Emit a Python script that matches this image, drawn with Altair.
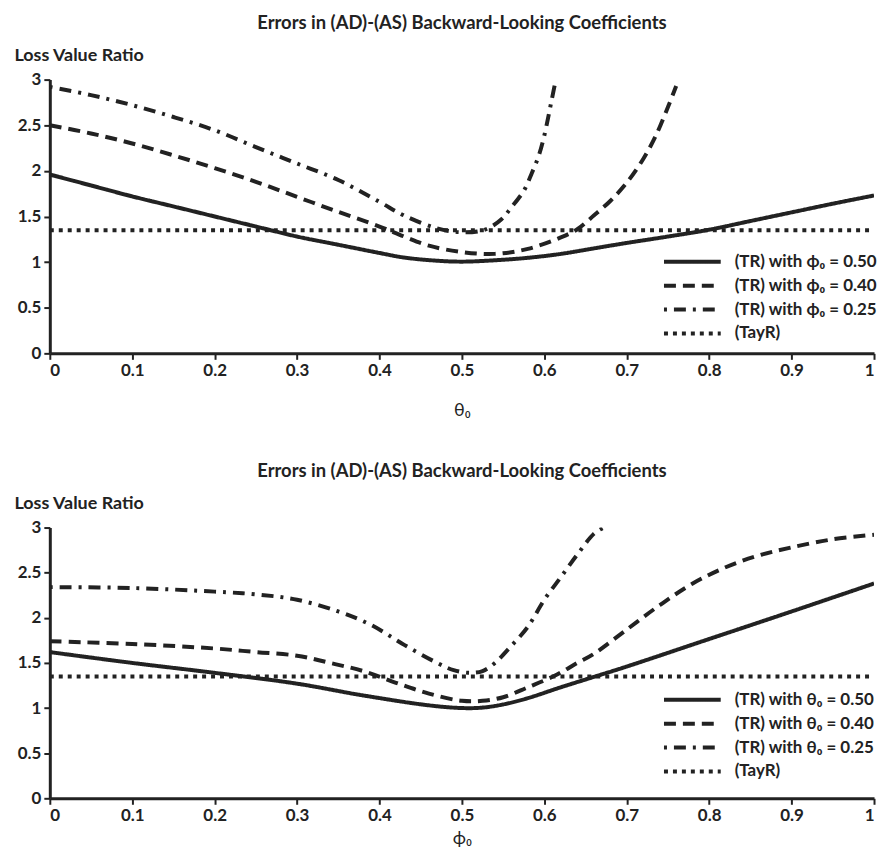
import altair as alt
import pandas as pd

# ---------------- Top panel (x = theta_0) ----------------
top_labels = ["(TR) with ϕ₀ = 0.50", "(TR) with ϕ₀ = 0.40", "(TR) with ϕ₀ = 0.25", "(TayR)"]

top_s_x = [0, 0.05, 0.1, 0.15, 0.2, 0.25, 0.3, 0.35, 0.4, 0.43, 0.47, 0.5, 0.54, 0.58, 0.62, 0.66, 0.7, 0.75, 0.8, 0.85, 0.9, 0.95, 1.0]
top_s_y = [1.96, 1.84, 1.72, 1.61, 1.50, 1.39, 1.28, 1.19, 1.10, 1.05, 1.015, 1.005, 1.02, 1.047, 1.09, 1.15, 1.21, 1.28, 1.355, 1.45, 1.545, 1.64, 1.73]

top_d_x = [0, 0.05, 0.1, 0.15, 0.2, 0.25, 0.3, 0.35, 0.4, 0.43, 0.46, 0.5, 0.54, 0.58, 0.62, 0.64, 0.66, 0.68, 0.70, 0.72, 0.735, 0.75, 0.76]
top_d_y = [2.50, 2.41, 2.30, 2.17, 2.03, 1.88, 1.715, 1.55, 1.39, 1.28, 1.18, 1.11, 1.09, 1.145, 1.27, 1.36, 1.51, 1.67, 1.87, 2.13, 2.38, 2.70, 2.93]

top_dd_x = [0, 0.05, 0.1, 0.15, 0.2, 0.25, 0.3, 0.35, 0.4, 0.43, 0.47, 0.5, 0.528, 0.548, 0.56, 0.575, 0.585, 0.593, 0.599, 0.605, 0.609, 0.614]
top_dd_y = [2.92, 2.83, 2.72, 2.59, 2.445, 2.26, 2.08, 1.90, 1.66, 1.51, 1.37, 1.327, 1.356, 1.47, 1.60, 1.78, 1.98, 2.16, 2.35, 2.60, 2.78, 3.0]

tayr_x = [0, 1]
tayr_y = [1.35, 1.35]

# ---------------- Bottom panel (x = phi_0) ----------------
bot_labels = ["(TR) with θ₀ = 0.50", "(TR) with θ₀ = 0.40", "(TR) with θ₀ = 0.25", "(TayR)"]

bot_s_x = [0, 0.1, 0.2, 0.3, 0.38, 0.46, 0.5, 0.525, 0.55, 0.58, 0.62, 0.66, 0.7, 0.8, 0.9, 1.0]
bot_s_y = [1.62, 1.50, 1.39, 1.27, 1.14, 1.03, 1.00, 1.005, 1.04, 1.11, 1.23, 1.345, 1.46, 1.765, 2.07, 2.38]

bot_d_x = [0, 0.1, 0.2, 0.25, 0.3, 0.34, 0.38, 0.42, 0.46, 0.5, 0.525, 0.55, 0.58, 0.613, 0.64, 0.66, 0.7, 0.74, 0.78, 0.82, 0.86, 0.9, 0.95, 1.0]
bot_d_y = [1.74, 1.71, 1.66, 1.62, 1.58, 1.50, 1.41, 1.28, 1.16, 1.08, 1.08, 1.12, 1.23, 1.36, 1.50, 1.60, 1.87, 2.14, 2.38, 2.56, 2.69, 2.78, 2.87, 2.92]

bot_dd_x = [0, 0.1, 0.2, 0.25, 0.3, 0.35, 0.39, 0.43, 0.47, 0.49, 0.51, 0.525, 0.54, 0.56, 0.58, 0.60, 0.62, 0.64, 0.66, 0.672]
bot_dd_y = [2.34, 2.33, 2.29, 2.26, 2.20, 2.07, 1.92, 1.70, 1.50, 1.42, 1.39, 1.41, 1.50, 1.69, 1.90, 2.20, 2.45, 2.70, 2.93, 3.0]

x_ticks = [0, 0.1, 0.2, 0.3, 0.4, 0.5, 0.6, 0.7, 0.8, 0.9, 1.0]
y_ticks = [0, 0.5, 1, 1.5, 2, 2.5, 3]

TITLE = "Errors in (AD)-(AS) Backward-Looking Coefficients"
FONT = "Lato"
INK = "#222222"

dashes = [[1, 0], [12, 7], [3, 7, 12, 7], [4, 5]]
widths = [4, 4, 2, 2]


def make_df(labels, series):
    rows = []
    for lab, (xs, ys) in zip(labels, series):
        for i, (xv, yv) in enumerate(zip(xs, ys)):
            rows.append({"series": lab, "x": xv, "y": yv, "order": i})
    return pd.DataFrame(rows)


def panel(df, labels, xtitle, w, h, legend_y, title_pad):
    leg = alt.Legend(
        orient="none", legendX=615, legendY=legend_y, title=None,
        symbolType="M-1,0H4.7", symbolSize=400, symbolStrokeColor=INK,
        symbolFillColor="transparent",
        labelFont=FONT, labelFontSize=17, labelFontWeight="bold", labelColor=INK,
        labelOffset=49, rowPadding=4, symbolOffset=0,
    )
    return alt.Chart(df).mark_line(color=INK, interpolate="catmull-rom", clip=True).encode(
        x=alt.X("x:Q", scale=alt.Scale(domain=[0, 1], nice=False),
                axis=alt.Axis(values=x_ticks, format="~g", title=xtitle,
                              titleFontWeight="normal", titleFontSize=18,
                              titlePadding=title_pad)),
        y=alt.Y("y:Q", scale=alt.Scale(domain=[0, 3], nice=False),
                axis=alt.Axis(values=y_ticks, format="~g", title="Loss Value Ratio",
                              titleAngle=0, titleAlign="left", titleBaseline="alphabetic",
                              titleX=-36, titleY=-19)),
        strokeDash=alt.StrokeDash("series:N", scale=alt.Scale(domain=labels, range=dashes), legend=leg),
        strokeWidth=alt.StrokeWidth("series:N", scale=alt.Scale(domain=labels, range=widths), legend=leg),
        order="order:Q",
    ).properties(
        width=w, height=h,
        title=alt.TitleParams(TITLE, font=FONT, fontSize=18.5, fontWeight="bold",
                              color=INK, anchor="middle", offset=14),
    )


top_df = make_df(top_labels, [(top_s_x, top_s_y), (top_d_x, top_d_y), (top_dd_x, top_dd_y), (tayr_x, tayr_y)])
bot_df = make_df(bot_labels, [(bot_s_x, bot_s_y), (bot_d_x, bot_d_y), (bot_dd_x, bot_dd_y), (tayr_x, tayr_y)])

top = panel(top_df, top_labels, "θ₀", 828, 275, 171, 23)
bot = panel(bot_df, bot_labels, "ϕ₀", 828, 272, 161, 6)

chart = alt.vconcat(top, bot, spacing=43).resolve_scale(
    strokeDash="independent", strokeWidth="independent"
).resolve_legend(
    strokeDash="independent", strokeWidth="independent"
).properties(
    padding={"top": 4, "left": 6, "right": 0, "bottom": 0},
    background="white",
).configure_view(stroke=None).configure_axis(
    grid=False, domainColor=INK, domainWidth=3, tickColor=INK, tickWidth=2, tickSize=6,
    labelFont=FONT, labelFontSize=17, labelFontWeight="bold", labelColor=INK, labelPadding=3,
    titleFont=FONT, titleFontSize=18, titleFontWeight="bold", titleColor=INK,
)

chart.save("out.html", embed_options={"renderer": "svg", "actions": False})
